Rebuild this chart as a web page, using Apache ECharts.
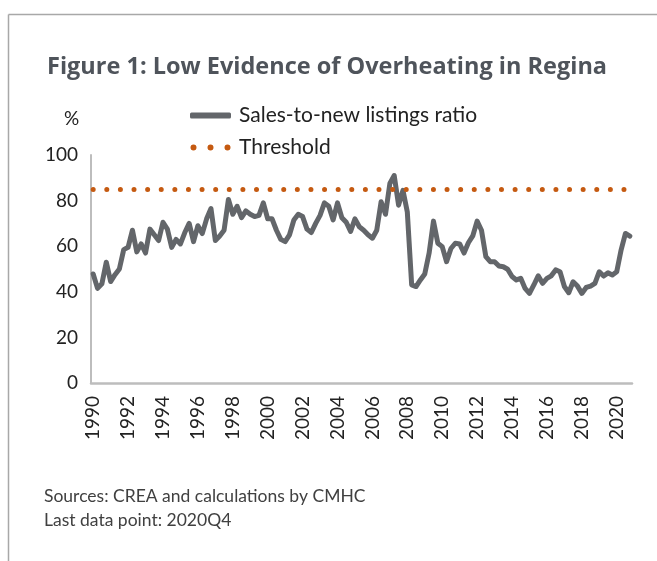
<!DOCTYPE html>
<html>
<head>
<meta charset="utf-8">
<script src="https://cdn.jsdelivr.net/npm/echarts@6/dist/echarts.min.js"></script>
<style>
html,body{margin:0;padding:0;background:#fff;}
#chart{width:657px;height:561px;}
</style>
</head>
<body>
<div id="chart"></div>
<script>
// ---- Data ----
const startYear = 1990;
const endYear = 2020;
const quarters = [];
for (let y = startYear; y <= endYear; y++) {
  for (let q = 1; q <= 4; q++) quarters.push(y + 'Q' + q);
}
const salesToNewListings = [
  47.8, 41.5, 43.5, 53.0, 44.5, 47.5, 50.0, 58.5, 59.5, 67.0, 57.5, 61.0, 57.0, 67.5, 65.0, 62.5,
  70.5, 67.5, 59.5, 63.0, 61.0, 66.0, 70.0, 62.0, 69.0, 65.5, 72.0, 76.5, 62.5, 64.5, 67.0, 80.5,
  74.0, 77.5, 72.5, 75.5, 74.0, 73.0, 73.5, 79.0, 72.0, 72.0, 67.0, 63.0, 62.0, 65.0, 71.5, 74.0,
  73.0, 67.5, 66.0, 70.0, 73.5, 79.0, 77.5, 71.5, 79.0, 72.5, 70.5, 66.5, 72.0, 68.5, 67.0, 65.0,
  63.5, 67.0, 79.5, 74.0, 87.5, 91.0, 78.0, 84.5, 75.0, 43.0, 42.3, 45.2, 47.8, 57.0, 71.0, 61.3,
  59.8, 53.2, 59.0, 61.3, 61.0, 57.0, 61.5, 64.5, 71.0, 67.0, 55.4, 53.2, 53.2, 51.3, 51.0, 49.9,
  46.7, 45.2, 45.9, 41.5, 39.3, 43.0, 47.0, 43.7, 45.9, 47.0, 49.6, 48.8, 42.3, 39.6, 44.4, 42.5,
  39.3, 41.9, 42.5, 43.7, 48.8, 46.9, 48.3, 47.4, 48.8, 58.3, 65.6, 64.4
];
const threshold = 85;
const yTicks = { min: 0, max: 100, interval: 20 };
const seriesNames = ['Sales-to-new listings ratio', 'Threshold'];
const titleText = 'Figure 1: Low Evidence of Overheating in Regina';
const unitText = '%';
const noteLines = ['Sources: CREA and calculations by CMHC', 'Last data point: 2020Q4'];

// ---- Chart ----
const FONT = 'Lato, "Open Sans", sans-serif';
const chart = echarts.init(document.getElementById('chart'), null, { renderer: 'canvas' });
const option = {
  animation: false,
  backgroundColor: '#ffffff',
  title: {
    text: titleText,
    left: 42, top: 50,
    textStyle: { fontFamily: '"Open Sans", Lato, sans-serif', fontWeight: 'bold', fontSize: 23.5, color: '#4f545b' }
  },
  legend: {
    orient: 'vertical',
    left: 185, top: 100,
    itemGap: 11,
    itemWidth: 41, itemHeight: 6,
    textStyle: { fontFamily: FONT, fontSize: 21, color: '#222', padding: [0, 0, 0, 3] },
    data: [
      { name: seriesNames[0], icon: 'roundRect' },
      { name: seriesNames[1], icon: 'path://M0,3a3,3 0 1,0 6,0a3,3 0 1,0 -6,0zM17,3a3,3 0 1,0 6,0a3,3 0 1,0 -6,0zM34,3a3,3 0 1,0 6,0a3,3 0 1,0 -6,0z' }
    ]
  },
  grid: { left: 91, right: 25, top: 155, bottom: 178, containLabel: false },
  xAxis: {
    type: 'category',
    data: quarters,
    boundaryGap: true,
    axisLine: { show: true, lineStyle: { color: '#bdbdbd', width: 2.5 } },
    axisTick: { show: false },
    axisLabel: {
      interval: 7, rotate: 90, margin: 13,
      fontFamily: FONT, fontSize: 19, color: '#222',
      formatter: v => v.slice(0, 4)
    },
    splitLine: { show: false }
  },
  yAxis: {
    type: 'value',
    min: yTicks.min, max: yTicks.max, interval: yTicks.interval,
    axisLine: { show: true, lineStyle: { color: '#bdbdbd', width: 2 } },
    axisTick: { show: false },
    axisLabel: { fontFamily: FONT, fontSize: 19, color: '#222', margin: 13 },
    splitLine: { show: false }
  },
  series: [
    {
      name: seriesNames[0],
      type: 'line',
      data: salesToNewListings,
      symbol: 'none',
      color: '#63666a',
      lineStyle: { color: '#63666a', width: 5, join: 'round', cap: 'round' },
      z: 3
    },
    {
      name: seriesNames[1],
      type: 'line',
      data: [],
      symbol: 'none',
      color: '#c55a11',
      lineStyle: { color: '#c55a11' },
      markLine: {
        silent: true,
        symbol: ['none', 'none'],
        label: { show: false },
        lineStyle: { color: '#c55a11', width: 5, type: [0.01, 13.6], cap: 'round' },
        data: [[{ coord: [0, threshold] }, { coord: [quarters.length - 1, threshold] }]]
      },
      z: 2
    }
  ],
  graphic: [
    { type: 'line', shape: { x1: 8.5, y1: 14.5, x2: 657, y2: 14.5 }, style: { stroke: '#a8a8a8', lineWidth: 1.5 } },
    { type: 'line', shape: { x1: 8.5, y1: 14.5, x2: 8.5, y2: 561 }, style: { stroke: '#a8a8a8', lineWidth: 1.5 } },
    { type: 'text', left: 64, top: 109, style: { text: unitText, fontFamily: FONT, fontSize: 19, fill: '#222' } },
    { type: 'text', left: 44, top: 487, style: { text: noteLines[0], fontFamily: FONT, fontSize: 17.5, fill: '#404040' } },
    { type: 'text', left: 44, top: 511, style: { text: noteLines[1], fontFamily: FONT, fontSize: 17.5, fill: '#404040' } }
  ]
};
chart.setOption(option);
</script>
</body>
</html>
